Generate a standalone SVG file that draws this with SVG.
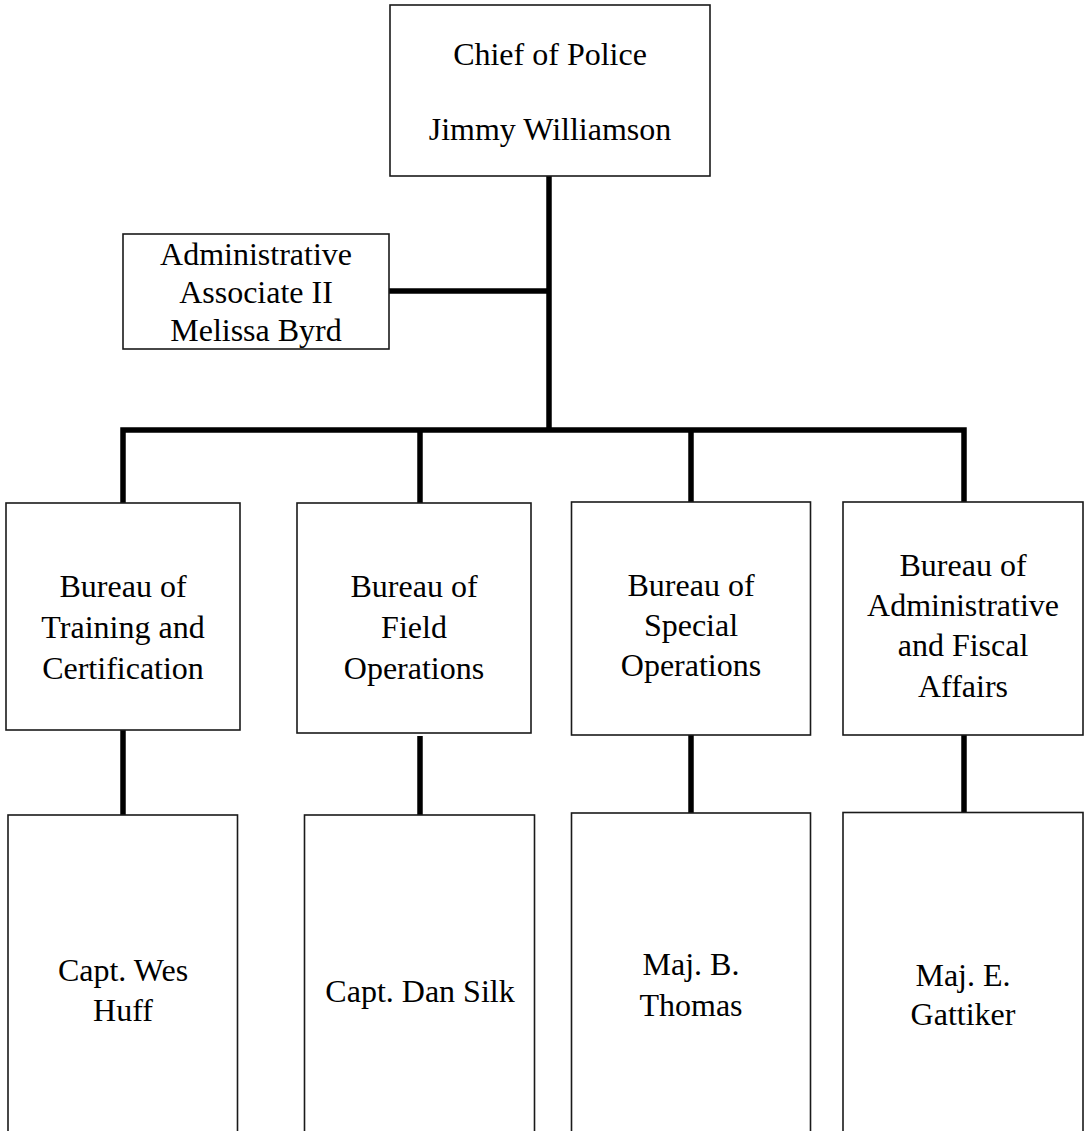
<svg xmlns="http://www.w3.org/2000/svg" width="1089" height="1131" viewBox="0 0 1089 1131">
<style>
.box{fill:#fff;stroke:#1a1a1a;stroke-width:1.6}
.t{font-family:"Liberation Serif","Times New Roman",serif;font-size:32px;fill:#000;text-anchor:middle}
.c{fill:none;stroke:#000;stroke-width:5.5;stroke-linejoin:miter;stroke-linecap:butt}
</style>
<rect width="1089" height="1131" fill="#fff"/>
<g id="connectors">
<path class="c" d="M549,176 V430"/>
<path class="c" d="M389,291 H549"/>
<path class="c" d="M123,503 V430 H964 V502"/>
<path class="c" d="M420,430 V503"/>
<path class="c" d="M691,430 V502"/>
<path class="c" d="M123,730 V815"/>
<path class="c" d="M420,736 V815"/>
<path class="c" d="M691,735 V813"/>
<path class="c" d="M964,735 V812"/>
</g>
<g id="chief">
<rect class="box" x="390" y="5" width="320" height="171"/>
<text class="t" x="550" y="65">Chief of Police</text>
<text class="t" x="550" y="140">Jimmy Williamson</text>
</g>
<g id="admin">
<rect class="box" x="123" y="234" width="266" height="115"/>
<text class="t" x="256" y="265">Administrative</text>
<text class="t" x="256" y="303">Associate II</text>
<text class="t" x="256" y="341">Melissa Byrd</text>
</g>
<g id="bureau-training">
<rect class="box" x="6" y="503" width="234" height="227"/>
<text class="t" x="123" y="597">Bureau of</text>
<text class="t" x="123" y="638">Training and</text>
<text class="t" x="123" y="679">Certification</text>
</g>
<g id="bureau-field">
<rect class="box" x="297" y="503" width="234" height="230"/>
<text class="t" x="414" y="597">Bureau of</text>
<text class="t" x="414" y="638">Field</text>
<text class="t" x="414" y="679">Operations</text>
</g>
<g id="bureau-special">
<rect class="box" x="571.5" y="502" width="239" height="233"/>
<text class="t" x="691" y="596">Bureau of</text>
<text class="t" x="691" y="636">Special</text>
<text class="t" x="691" y="676">Operations</text>
</g>
<g id="bureau-admin">
<rect class="box" x="843" y="502" width="240" height="233"/>
<text class="t" x="963" y="576">Bureau of</text>
<text class="t" x="963" y="616">Administrative</text>
<text class="t" x="963" y="656">and Fiscal</text>
<text class="t" x="963" y="697">Affairs</text>
</g>
<g id="capt-huff">
<rect class="box" x="8" y="815" width="229.5" height="330"/>
<text class="t" x="123" y="981">Capt. Wes</text>
<text class="t" x="123" y="1021">Huff</text>
</g>
<g id="capt-silk">
<rect class="box" x="304.5" y="815" width="230" height="330"/>
<text class="t" x="420" y="1002">Capt. Dan Silk</text>
</g>
<g id="maj-thomas">
<rect class="box" x="571.5" y="813" width="239" height="330"/>
<text class="t" x="691" y="975">Maj. B.</text>
<text class="t" x="691" y="1016">Thomas</text>
</g>
<g id="maj-gattiker">
<rect class="box" x="843" y="812.5" width="240" height="330"/>
<text class="t" x="963" y="986">Maj. E.</text>
<text class="t" x="963" y="1025">Gattiker</text>
</g>
</svg>
